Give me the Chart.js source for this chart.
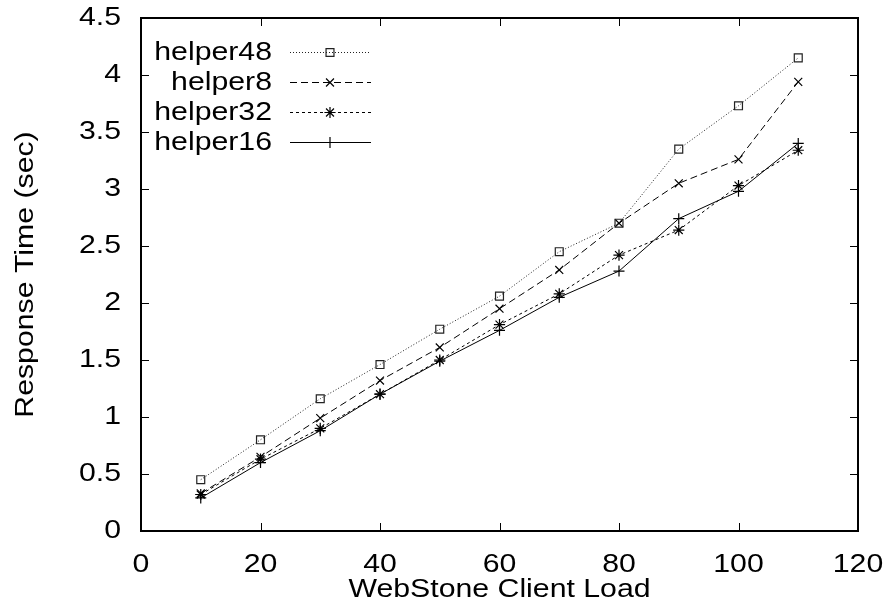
<!DOCTYPE html>
<html>
<head>
<meta charset="utf-8">
<script src="https://cdn.jsdelivr.net/npm/chart.js@4/dist/chart.umd.min.js"></script>
<style>
  html, body { margin: 0; padding: 0; background: #fff; }
  #wrap { width: 886px; height: 611px; }
</style>
</head>
<body>
<div id="wrap"><canvas id="c" width="886" height="611"></canvas></div>
<script>
const clientLoad = [10, 20, 30, 40, 50, 60, 70, 80, 90, 100, 110];
const helper48 = [0.45, 0.80, 1.16, 1.46, 1.77, 2.06, 2.45, 2.70, 3.35, 3.73, 4.15];
const helper8  = [0.33, 0.65, 0.99, 1.32, 1.61, 1.95, 2.29, 2.70, 3.05, 3.26, 3.94];
const helper32 = [0.32, 0.63, 0.90, 1.20, 1.50, 1.81, 2.08, 2.42, 2.64, 3.03, 3.34];
const helper16 = [0.29, 0.60, 0.88, 1.20, 1.49, 1.76, 2.05, 2.28, 2.74, 2.98, 3.40];
const seriesNames = ['helper48', 'helper8', 'helper32', 'helper16'];
const xTicks = [0, 20, 40, 60, 80, 100, 120];
const yTicks = [0, 0.5, 1, 1.5, 2, 2.5, 3, 3.5, 4, 4.5];

const FONT = 'Liberation Sans, Arial, Helvetica, sans-serif';
const STRETCH = 1.21; // horizontal widening of glyphs, as in the reference
const styles = [
  { dash: [1, 2], point: 'rect', color: '#222', radius: 5.6 },
  { dash: [7, 4], point: 'crossRot', color: '#000', radius: 5.6 },
  { dash: [3, 3], point: 'star', color: '#000', radius: 5.6 },
  { dash: [], point: 'cross', color: '#000', radius: 5.5 }
];
const seriesValues = [helper48, helper8, helper32, helper16];

const datasets = seriesNames.map((name, i) => ({
  label: name,
  data: clientLoad.map((x, j) => ({ x: x, y: seriesValues[i][j] })),
  borderColor: styles[i].color,
  backgroundColor: 'rgba(0,0,0,0)',
  borderWidth: 1,
  borderDash: styles[i].dash,
  pointStyle: styles[i].point,
  pointRadius: styles[i].radius,
  pointBorderColor: styles[i].color,
  pointBackgroundColor: 'rgba(0,0,0,0)',
  pointBorderWidth: 1.2,
  tension: 0,
  fill: false
}));

// widen text horizontally (gnuplot-like wide Helvetica)
const stretchPlugin = {
  id: 'stretch',
  beforeInit(chart) {
    const ctx = chart.ctx;
    if (ctx.__stretched) return;
    ctx.__stretched = true;
    const origFill = ctx.fillText.bind(ctx);
    const origMeasure = ctx.measureText.bind(ctx);
    ctx.fillText = function (text, x, y, maxWidth) {
      this.save();
      this.translate(x, y);
      this.scale(STRETCH, 1);
      origFill(text, 0, 0);
      this.restore();
    };
    ctx.measureText = function (text) {
      const m = origMeasure(text);
      return {
        width: m.width * STRETCH,
        actualBoundingBoxAscent: m.actualBoundingBoxAscent,
        actualBoundingBoxDescent: m.actualBoundingBoxDescent,
        actualBoundingBoxLeft: m.actualBoundingBoxLeft * STRETCH,
        actualBoundingBoxRight: m.actualBoundingBoxRight * STRETCH
      };
    };
  }
};

const framePlugin = {
  id: 'frame',
  afterDatasetsDraw(chart) {
    const ctx = chart.ctx;
    const a = chart.chartArea;
    const xs = chart.scales.x, ys = chart.scales.y;
    ctx.save();
    ctx.strokeStyle = '#000';
    ctx.lineWidth = 1;
    ctx.setLineDash([]);
    const L = 8;
    xTicks.forEach(v => {
      const px = Math.round(xs.getPixelForValue(v)) + 0.5;
      ctx.beginPath();
      ctx.moveTo(px, a.bottom); ctx.lineTo(px, a.bottom - L);
      ctx.moveTo(px, a.top); ctx.lineTo(px, a.top + L);
      ctx.stroke();
    });
    yTicks.forEach(v => {
      const py = Math.round(ys.getPixelForValue(v)) + 0.5;
      ctx.beginPath();
      ctx.moveTo(a.left, py); ctx.lineTo(a.left + L, py);
      ctx.moveTo(a.right, py); ctx.lineTo(a.right - L, py);
      ctx.stroke();
    });
    ctx.lineWidth = 2;
    ctx.strokeRect(a.left, a.top, a.right - a.left, a.bottom - a.top);

    // legend (gnuplot style: right-aligned text, then sample)
    ctx.font = '25px ' + FONT;
    ctx.textAlign = 'right';
    ctx.textBaseline = 'middle';
    ctx.fillStyle = '#000';
    chart.data.datasets.forEach((ds, i) => {
      const y = 52 + i * 30;
      ctx.fillText(ds.label, 272, y + 1);
      ctx.save();
      ctx.strokeStyle = ds.borderColor;
      ctx.lineWidth = 1;
      ctx.setLineDash(ds.borderDash);
      ctx.beginPath();
      ctx.moveTo(290, y + 0.5); ctx.lineTo(371, y + 0.5);
      ctx.stroke();
      ctx.setLineDash([]);
      ctx.lineWidth = 1.2;
      ctx.strokeStyle = ds.pointBorderColor;
      ctx.fillStyle = 'rgba(0,0,0,0)';
      Chart.helpers.drawPoint(ctx, { pointStyle: ds.pointStyle, radius: ds.pointRadius, rotation: 0, borderWidth: 1.2 }, 330, y + 0.5);
      ctx.restore();
    });
    ctx.restore();
  }
};

new Chart(document.getElementById('c'), {
  type: 'line',
  data: { datasets: datasets },
  options: {
    responsive: false,
    animation: false,
    devicePixelRatio: 1,
    layout: { padding: { left: 0, right: 28, top: 18, bottom: 0 } },
    plugins: {
      legend: { display: false },
      tooltip: { enabled: false }
    },
    scales: {
      x: {
        type: 'linear',
        min: 0, max: 120,
        afterBuildTicks: s => { s.ticks = xTicks.map(v => ({ value: v })); },
        afterFit: s => { s.height = 80; s.paddingLeft = 0; s.paddingRight = 0; },
        grid: { display: false, drawTicks: false },
        border: { display: false },
        ticks: { color: '#000', font: { size: 25, family: FONT }, padding: 19, maxRotation: 0, autoSkip: false },
        title: { display: true, text: 'WebStone Client Load', color: '#000', font: { size: 25, family: FONT }, padding: { top: 0, bottom: 6 } }
      },
      y: {
        type: 'linear',
        min: 0, max: 4.5,
        afterBuildTicks: s => { s.ticks = yTicks.map(v => ({ value: v })); },
        afterFit: s => { s.width = 141; s.paddingTop = 0; s.paddingBottom = 0; },
        grid: { display: false, drawTicks: false },
        border: { display: false },
        ticks: { color: '#000', font: { size: 25, family: FONT }, padding: 20, autoSkip: false,
                 callback: v => String(v) },
        title: { display: true, text: 'Response Time (sec)', color: '#000', font: { size: 25, family: FONT }, padding: { top: 11, bottom: 0 } }
      }
    }
  },
  plugins: [stretchPlugin, framePlugin]
});
</script>
</body>
</html>
